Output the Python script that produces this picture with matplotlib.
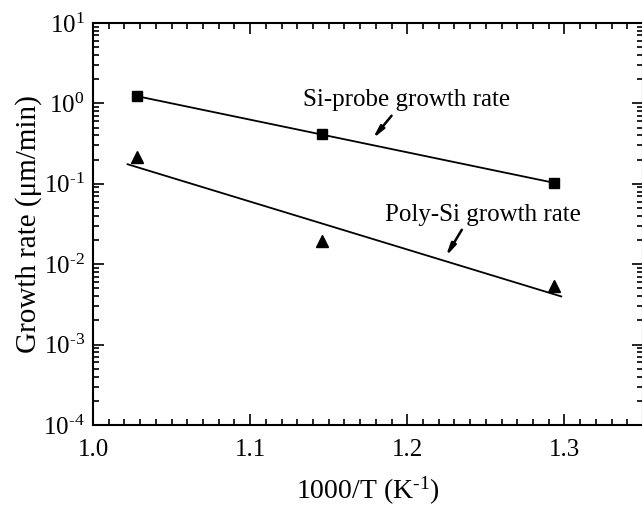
import numpy as np
import matplotlib
matplotlib.use("Agg")
import matplotlib.pyplot as plt
from matplotlib.ticker import LogLocator, MultipleLocator, FuncFormatter

plt.rcParams['font.family'] = ['Liberation Serif', 'DejaVu Serif']
plt.rcParams['mathtext.fontset'] = 'custom'
plt.rcParams['mathtext.rm'] = 'Liberation Serif'
plt.rcParams['mathtext.it'] = 'Liberation Serif:italic'

# data
inv_T = [1.028, 1.1455, 1.2936]
si_probe_rate = [1.22, 0.416, 0.102]
poly_si_rate = [0.215, 0.0192, 0.0053]

# x extent of the fitted lines
si_probe_fit_x = [1.028, 1.2936]
poly_si_fit_x = [1.022, 1.298]


def fit_line(x, y, xr):
    k, b = np.polyfit(x, np.log10(y), 1)
    xs = np.array(xr)
    return xs, 10 ** (k * xs + b)


def log_label(v, pos):
    return r"10$^{\text{%d}}$" % round(np.log10(v))


fig = plt.figure(figsize=(6.42, 5.13), dpi=100)
ax = fig.add_axes([93 / 642, 1 - 425 / 513, 550 / 642, 402 / 513])

xs, ys = fit_line(inv_T, si_probe_rate, si_probe_fit_x)
ax.plot(xs, ys, color='black', lw=1.3)
xs, ys = fit_line(inv_T, poly_si_rate, poly_si_fit_x)
ax.plot(xs, ys, color='black', lw=1.3)

ax.plot(inv_T, si_probe_rate, 's', color='black', ms=7.5, ls='none')
ax.plot(inv_T, poly_si_rate, '^', color='black', ms=9, ls='none')

ax.set_yscale('log')
ax.set_xlim(1.0, 1.35)
ax.set_ylim(1e-4, 1e1)

ax.xaxis.set_major_locator(MultipleLocator(0.1))
ax.xaxis.set_minor_locator(MultipleLocator(0.01))
ax.xaxis.set_major_formatter(FuncFormatter(lambda v, p: f"{v:.1f}"))
ax.yaxis.set_major_locator(LogLocator(base=10, numticks=10))
ax.yaxis.set_minor_locator(LogLocator(base=10, subs=np.arange(2, 10), numticks=20))
ax.yaxis.set_major_formatter(FuncFormatter(log_label))

ax.tick_params(which='both', direction='in', top=True, right=True, width=1.2)
ax.tick_params(which='major', length=8, labelsize=18)
ax.tick_params(axis='x', which='major', pad=10)
ax.tick_params(axis='y', which='major', pad=6)
ax.tick_params(which='minor', length=4)
for s in ax.spines.values():
    s.set_linewidth(1.5)

ax.set_xlabel("1000/T (K$^{\\text{-1}}$)", fontsize=20, labelpad=10)
ax.set_ylabel("Growth rate (μm/min)", fontsize=21, labelpad=1)

arrow = dict(arrowstyle='-|>,head_length=0.7,head_width=0.15', color='black', lw=1.8,
             shrinkA=0, shrinkB=0)
ax.annotate("", xy=(1.178, 0.364), xytext=(1.190, 0.703), arrowprops=arrow)
ax.text(1.1995, 1.11, "Si-probe growth rate", fontsize=18, ha='center', va='center')
ax.annotate("", xy=(1.2245, 0.0125), xytext=(1.2347, 0.0268), arrowprops=arrow)
ax.text(1.2482, 0.0404, "Poly-Si growth rate", fontsize=18, ha='center', va='center')

fig.savefig("out.png", dpi=100)
